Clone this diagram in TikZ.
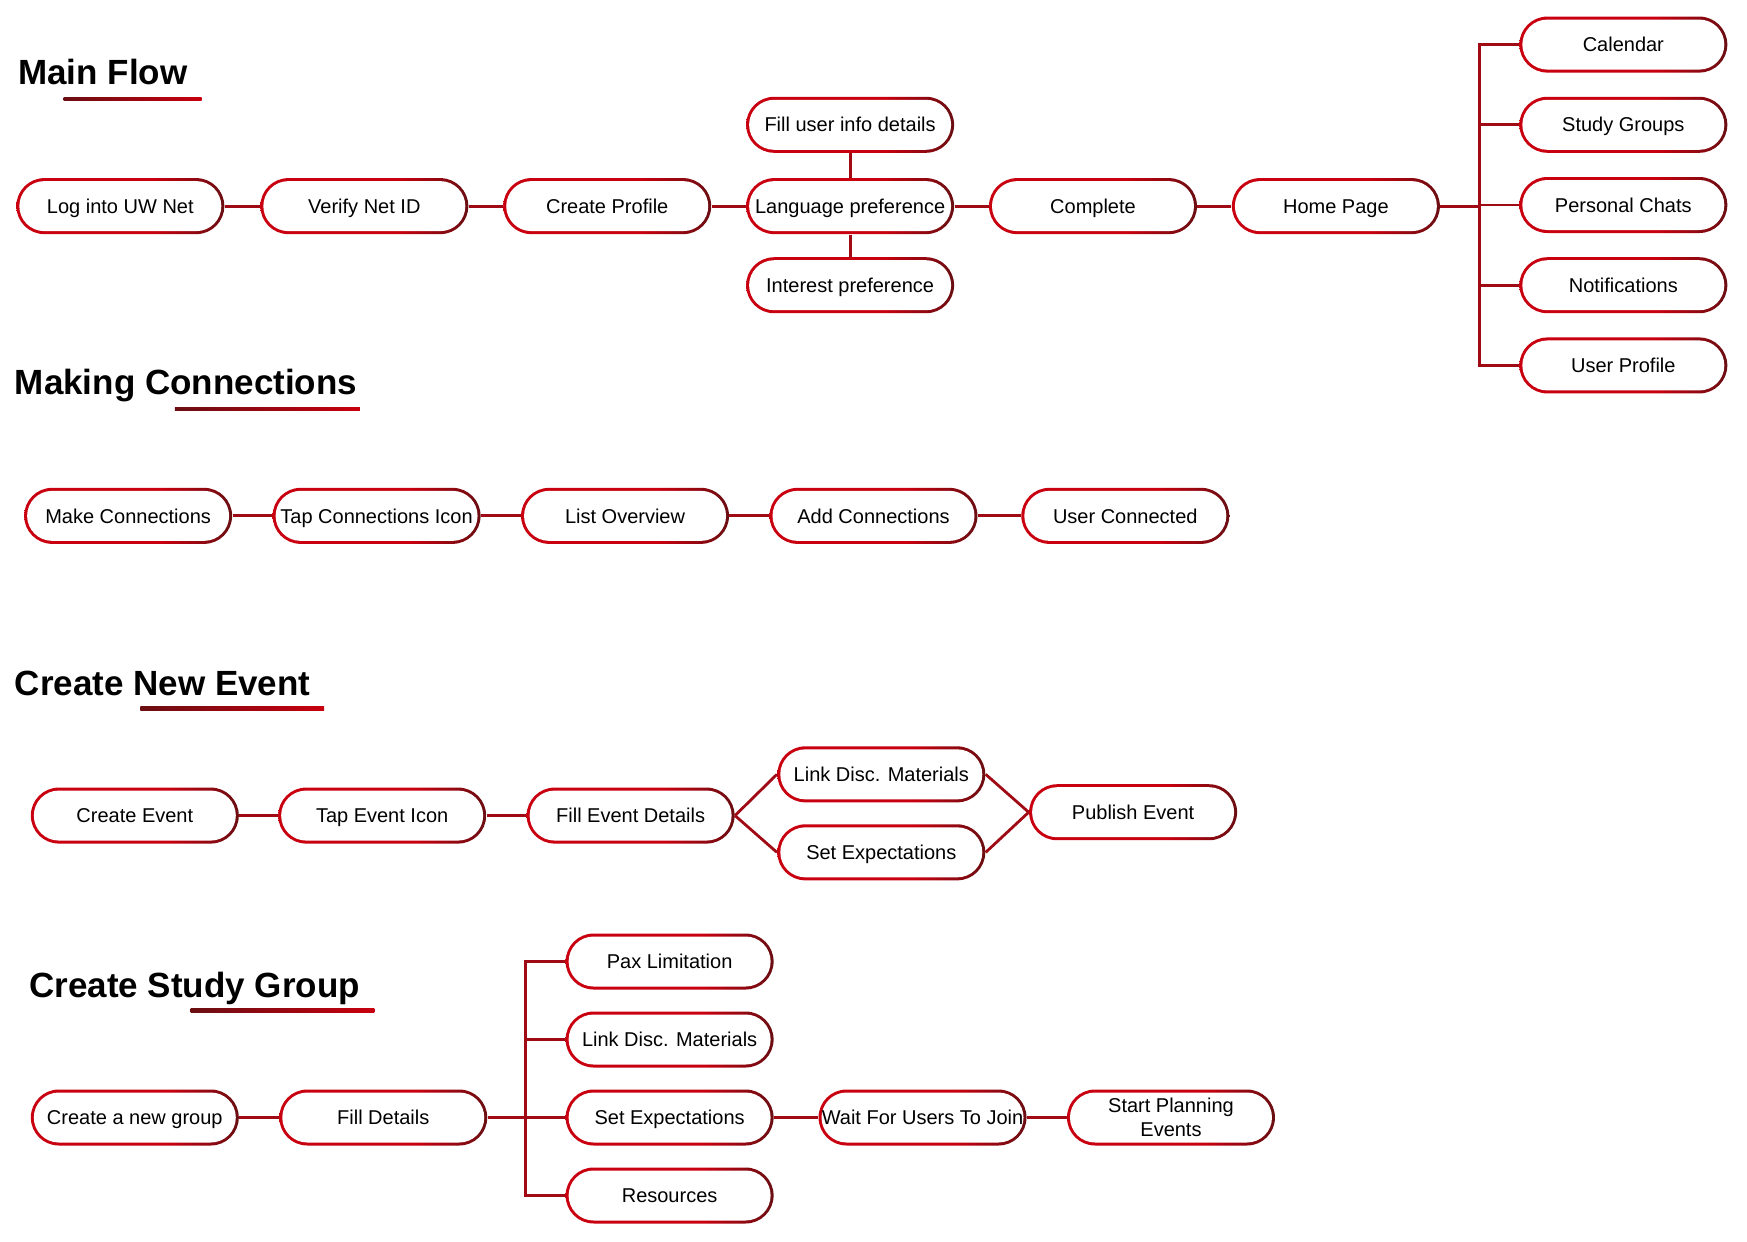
\documentclass[tikz,border=0pt]{standalone}
\usepackage{fontspec}
\setmainfont{Liberation Sans}
\definecolor{flowred}{HTML}{C8000F}
\definecolor{flowdark}{HTML}{6A0E12}
\definecolor{flowline}{HTML}{A00A14}
\pgfdeclarehorizontalshading{rimshade}{100bp}{color(0bp)=(flowred); color(25bp)=(flowred); color(58bp)=(flowred); color(75bp)=(flowdark); color(100bp)=(flowdark)}
\begin{document}
\begin{tikzpicture}[x=0.5571pt, y=-0.5571pt,
    stepbox/.style={rectangle, rounded corners=14pt, minimum width=104pt, minimum height=28pt,
        inner sep=0pt, align=center, font=\fontsize{10}{11.7}\selectfont, shading=rimshade,
        text height=7.2pt, text depth=0pt,
        path picture={\fill[white, rounded corners=12.5pt]
            ([shift={(1.5pt,1.5pt)}]path picture bounding box.south west) rectangle
            ([shift={(-1.5pt,-1.5pt)}]path picture bounding box.north east);}},
    heading/.style={anchor=base west, inner sep=0pt, font=\fontsize{17.5}{20}\selectfont\bfseries},
    link/.style={draw=flowline, line width=1.4pt}]
    \useasboundingbox (0,0) rectangle (1568,1114);

    % titles
    \node[heading] (tmain) at (16,76) {Main Flow};
    \node[heading] (tconn) at (13,354) {Making Connections};
    \node[heading] (tevent) at (13,624) {Create New Event};
    \node[heading] (tgroup) at (26,895) {Create Study Group};
    \shade[left color=flowdark, right color=flowred] (57,87.5) rectangle (181,90.5);
    \shade[left color=flowdark, right color=flowred] (157,365.5) rectangle (323,368.5);
    \shade[left color=flowdark, right color=flowred] (126,634.5) rectangle (291,637.5);
    \shade[left color=flowdark, right color=flowred] (171,905.5) rectangle (336,908.5);

    % main flow
    \node[stepbox] (login) at (108,185) {Log into UW Net};
    \node[stepbox] (verify) at (327,185) {Verify Net ID};
    \node[stepbox] (profile) at (545,185) {Create Profile};
    \node[stepbox] (lang) at (763,185) {Language preference};
    \node[stepbox] (userinfo) at (763,112) {Fill user info details};
    \node[stepbox] (interest) at (763,256) {Interest preference};
    \node[stepbox] (complete) at (981,185) {Complete};
    \node[stepbox] (home) at (1199,185) {Home Page};
    \node[stepbox] (cal) at (1457,40) {Calendar};
    \node[stepbox] (groups) at (1457,112) {Study Groups};
    \node[stepbox] (chats) at (1457,184) {Personal Chats};
    \node[stepbox] (notif) at (1457,256) {Notifications};
    \node[stepbox] (uprofile) at (1457,328) {User Profile};
    \coordinate (homebus) at (1328,185);
    \draw[link] (login) -- (verify);
    \draw[link] (verify) -- (profile);
    \draw[link] (profile) -- (lang);
    \draw[link] (lang) -- (userinfo);
    \draw[link] (lang) -- (interest);
    \draw[link] (lang) -- (complete);
    \draw[link] (complete) -- (home);
    \draw[link] (home) -- (homebus);
    \foreach \n in {cal,groups,chats,notif,uprofile}
        \draw[link] (homebus) |- (\n.west);

    % making connections
    \node[stepbox] (makecon) at (115,463) {Make Connections};
    \node[stepbox] (tapcon) at (338,463) {Tap Connections Icon};
    \node[stepbox] (listov) at (561,463) {List Overview};
    \node[stepbox] (addcon) at (784,463) {Add Connections};
    \node[stepbox] (usercon) at (1010,463) {User Connected};
    \draw[link] (makecon) -- (tapcon);
    \draw[link] (tapcon) -- (listov);
    \draw[link] (listov) -- (addcon);
    \draw[link] (addcon) -- (usercon);

    % create new event
    \node[stepbox] (crevent) at (121,732) {Create Event};
    \node[stepbox] (tapevent) at (343,732) {Tap Event Icon};
    \node[stepbox] (fillevent) at (566,732) {Fill Event Details};
    \node[stepbox] (linkev) at (791,695) {Link Disc. Materials};
    \node[stepbox] (setev) at (791,765) {Set Expectations};
    \node[stepbox] (publish) at (1017,729) {Publish Event};
    \draw[link] (crevent) -- (tapevent);
    \draw[link] (tapevent) -- (fillevent);
    \draw[link] (fillevent.east) -- (linkev.west);
    \draw[link] (fillevent.east) -- (setev.west);
    \draw[link] (linkev.east) -- (publish.west);
    \draw[link] (setev.east) -- (publish.west);

    % create study group
    \node[stepbox] (newgroup) at (121,1003) {Create a new group};
    \node[stepbox] (filldet) at (344,1003) {Fill Details};
    \node[stepbox] (pax) at (601,863) {Pax Limitation};
    \node[stepbox] (linkgr) at (601,933) {Link Disc. Materials};
    \node[stepbox] (setgr) at (601,1003) {Set Expectations};
    \node[stepbox] (resources) at (601,1073) {Resources};
    \node[stepbox] (waitjoin) at (828,1003) {Wait For Users To Join};
    \node[stepbox, text height=, text depth=] (startplan) at (1051,1003) {Start Planning\\Events};
    \coordinate (groupbus) at (472,1003);
    \draw[link] (newgroup) -- (filldet);
    \draw[link] (filldet) -- (groupbus);
    \foreach \n in {pax,linkgr,setgr,resources}
        \draw[link] (groupbus) |- (\n.west);
    \draw[link] (setgr) -- (waitjoin);
    \draw[link] (waitjoin) -- (startplan);
\end{tikzpicture}
\end{document}
